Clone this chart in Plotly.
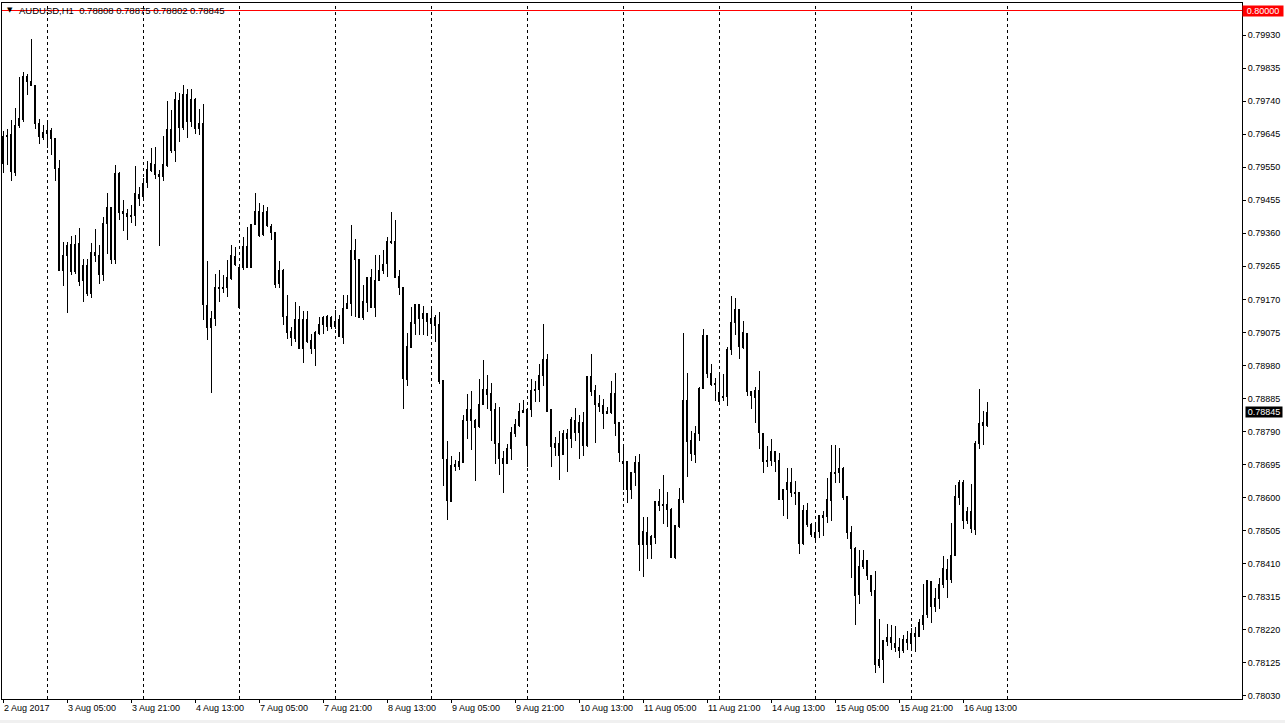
import pandas as pd
import plotly.graph_objects as go

symbol = "AUDUSD,H1"
first_bar_time = "2017-08-02 13:00"

opens = [0.79561, 0.79637, 0.79643, 0.79535, 0.79670, 0.79687, 0.79812, 0.79797, 0.79785, 0.79676,
         0.79636, 0.79647, 0.79655, 0.79632, 0.79545, 0.79254, 0.79296, 0.79328, 0.79251, 0.79330,
         0.79224, 0.79268, 0.79187, 0.79304, 0.79296, 0.79241, 0.79388, 0.79435, 0.79285, 0.79533,
         0.79423, 0.79416, 0.79412, 0.79410, 0.79472, 0.79465, 0.79505, 0.79540, 0.79558, 0.79529,
         0.79522, 0.79556, 0.79659, 0.79599, 0.79743, 0.79663, 0.79758, 0.79681, 0.79745, 0.79662,
         0.79676, 0.79151, 0.79090, 0.79114, 0.79202, 0.79204, 0.79205, 0.79231, 0.79294, 0.79148,
         0.79261, 0.79323, 0.79261, 0.79385, 0.79424, 0.79356, 0.79424, 0.79380, 0.79362, 0.79215,
         0.79254, 0.79121, 0.79078, 0.79057, 0.79112, 0.79030, 0.79112, 0.79052, 0.79028, 0.79071,
         0.79097, 0.79121, 0.79093, 0.79093, 0.79111, 0.79061, 0.79143, 0.79157, 0.79311, 0.79285,
         0.79119, 0.79162, 0.79232, 0.79148, 0.79224, 0.79254, 0.79274, 0.79337, 0.79335, 0.79236,
         0.79204, 0.78939, 0.79033, 0.79102, 0.79156, 0.79116, 0.79129, 0.79100, 0.79119, 0.79098,
         0.78937, 0.78710, 0.78589, 0.78695, 0.78690, 0.78701, 0.78821, 0.78853, 0.78823, 0.78804,
         0.78867, 0.78911, 0.78899, 0.78852, 0.78755, 0.78712, 0.78699, 0.78742, 0.78785, 0.78807,
         0.78845, 0.78749, 0.78852, 0.78907, 0.78911, 0.78951, 0.78996, 0.78853, 0.78757, 0.78757,
         0.78724, 0.78783, 0.78770, 0.78821, 0.78788, 0.78815, 0.78749, 0.78948, 0.78908, 0.78872,
         0.78865, 0.78848, 0.78845, 0.78899, 0.78815, 0.78703, 0.78703, 0.78624, 0.78671, 0.78700,
         0.78464, 0.78500, 0.78464, 0.78485, 0.78588, 0.78579, 0.78579, 0.78567, 0.78428, 0.78517,
         0.78596, 0.78879, 0.78764, 0.78724, 0.78783, 0.78913, 0.79066, 0.78957, 0.78928, 0.78877,
         0.78890, 0.78890, 0.79025, 0.79103, 0.79140, 0.79031, 0.79071, 0.78906, 0.78888, 0.78908,
         0.78783, 0.78708, 0.78708, 0.78733, 0.78706, 0.78596, 0.78623, 0.78643, 0.78615, 0.78614,
         0.78467, 0.78564, 0.78524, 0.78485, 0.78503, 0.78543, 0.78545, 0.78593, 0.78671, 0.78671,
         0.78685, 0.78603, 0.78499, 0.78455, 0.78321, 0.78402, 0.78418, 0.78375, 0.78332, 0.78118,
         0.78135, 0.78185, 0.78197, 0.78181, 0.78170, 0.78161, 0.78193, 0.78181, 0.78210, 0.78202,
         0.78236, 0.78263, 0.78359, 0.78287, 0.78310, 0.78349, 0.78394, 0.78365, 0.78434, 0.78600,
         0.78643, 0.78535, 0.78559, 0.78509, 0.78757, 0.78817, 0.78808]

highs = [0.79655, 0.79660, 0.79685, 0.79719, 0.79810, 0.79823, 0.79818, 0.79919, 0.79787, 0.79690,
         0.79671, 0.79678, 0.79662, 0.79634, 0.79572, 0.79335, 0.79335, 0.79352, 0.79354, 0.79376,
         0.79285, 0.79286, 0.79332, 0.79371, 0.79325, 0.79407, 0.79475, 0.79437, 0.79556, 0.79536,
         0.79455, 0.79431, 0.79440, 0.79554, 0.79492, 0.79518, 0.79567, 0.79606, 0.79609, 0.79542,
         0.79639, 0.79740, 0.79714, 0.79767, 0.79762, 0.79786, 0.79775, 0.79774, 0.79748, 0.79716,
         0.79731, 0.79279, 0.79138, 0.79243, 0.79255, 0.79239, 0.79282, 0.79325, 0.79321, 0.79268,
         0.79349, 0.79378, 0.79388, 0.79475, 0.79447, 0.79441, 0.79436, 0.79388, 0.79364, 0.79280,
         0.79256, 0.79182, 0.79090, 0.79162, 0.79150, 0.79138, 0.79138, 0.79071, 0.79080, 0.79119,
         0.79121, 0.79124, 0.79121, 0.79140, 0.79124, 0.79182, 0.79182, 0.79385, 0.79345, 0.79287,
         0.79210, 0.79235, 0.79258, 0.79297, 0.79297, 0.79311, 0.79349, 0.79420, 0.79397, 0.79254,
         0.79206, 0.79073, 0.79148, 0.79158, 0.79158, 0.79150, 0.79131, 0.79143, 0.79124, 0.79133,
         0.78939, 0.78764, 0.78721, 0.78708, 0.78732, 0.78839, 0.78897, 0.78908, 0.78825, 0.78942,
         0.78996, 0.78953, 0.78929, 0.78871, 0.78862, 0.78733, 0.78755, 0.78802, 0.78826, 0.78873,
         0.78881, 0.78855, 0.78940, 0.78935, 0.78984, 0.79098, 0.79014, 0.78855, 0.78773, 0.78793,
         0.78795, 0.78796, 0.78831, 0.78858, 0.78838, 0.78845, 0.78951, 0.79012, 0.78924, 0.78896,
         0.78884, 0.78860, 0.78934, 0.78959, 0.78818, 0.78747, 0.78705, 0.78673, 0.78719, 0.78726,
         0.78543, 0.78543, 0.78492, 0.78591, 0.78625, 0.78666, 0.78615, 0.78569, 0.78521, 0.78627,
         0.79074, 0.78959, 0.78793, 0.78805, 0.78917, 0.79085, 0.79068, 0.78983, 0.78944, 0.78959,
         0.78956, 0.79032, 0.79179, 0.79175, 0.79143, 0.79109, 0.79073, 0.78906, 0.78919, 0.78965,
         0.78785, 0.78749, 0.78769, 0.78735, 0.78729, 0.78626, 0.78685, 0.78685, 0.78649, 0.78617,
         0.78579, 0.78584, 0.78526, 0.78524, 0.78550, 0.78562, 0.78656, 0.78752, 0.78751, 0.78742,
         0.78687, 0.78605, 0.78519, 0.78457, 0.78450, 0.78450, 0.78421, 0.78377, 0.78390, 0.78252,
         0.78190, 0.78236, 0.78234, 0.78231, 0.78196, 0.78205, 0.78218, 0.78226, 0.78229, 0.78252,
         0.78351, 0.78363, 0.78361, 0.78341, 0.78368, 0.78432, 0.78423, 0.78526, 0.78637, 0.78651,
         0.78650, 0.78574, 0.78639, 0.78764, 0.78911, 0.78850, 0.78875]

lows = [0.79534, 0.79556, 0.79511, 0.79524, 0.79663, 0.79681, 0.79758, 0.79783, 0.79660, 0.79618,
        0.79628, 0.79604, 0.79585, 0.79509, 0.79251, 0.79208, 0.79130, 0.79239, 0.79244, 0.79209,
        0.79162, 0.79181, 0.79174, 0.79277, 0.79215, 0.79224, 0.79300, 0.79271, 0.79271, 0.79397,
        0.79366, 0.79340, 0.79389, 0.79381, 0.79439, 0.79455, 0.79489, 0.79537, 0.79515, 0.79323,
        0.79511, 0.79551, 0.79591, 0.79565, 0.79623, 0.79657, 0.79634, 0.79666, 0.79645, 0.79642,
        0.79111, 0.79054, 0.78901, 0.79093, 0.79162, 0.79187, 0.79177, 0.79225, 0.79265, 0.79147,
        0.79254, 0.79259, 0.79260, 0.79383, 0.79349, 0.79351, 0.79378, 0.79340, 0.79203, 0.79203,
        0.79095, 0.79057, 0.79037, 0.79047, 0.79028, 0.78987, 0.79045, 0.79014, 0.78978, 0.79069,
        0.79071, 0.79079, 0.79086, 0.79084, 0.79061, 0.79043, 0.79141, 0.79121, 0.79119, 0.79117,
        0.79112, 0.79133, 0.79146, 0.79119, 0.79222, 0.79244, 0.79234, 0.79330, 0.79232, 0.79182,
        0.78855, 0.78922, 0.79031, 0.79069, 0.79069, 0.79068, 0.79064, 0.79071, 0.79047, 0.78927,
        0.78634, 0.78536, 0.78587, 0.78677, 0.78679, 0.78699, 0.78770, 0.78738, 0.78649, 0.78800,
        0.78865, 0.78855, 0.78764, 0.78697, 0.78666, 0.78613, 0.78697, 0.78708, 0.78773, 0.78804,
        0.78843, 0.78687, 0.78831, 0.78874, 0.78874, 0.78922, 0.78845, 0.78687, 0.78719, 0.78652,
        0.78722, 0.78674, 0.78742, 0.78762, 0.78712, 0.78719, 0.78747, 0.78893, 0.78756, 0.78847,
        0.78796, 0.78840, 0.78840, 0.78776, 0.78703, 0.78623, 0.78586, 0.78595, 0.78634, 0.78390,
        0.78373, 0.78423, 0.78423, 0.78467, 0.78562, 0.78524, 0.78516, 0.78426, 0.78423, 0.78514,
        0.78586, 0.78660, 0.78705, 0.78700, 0.78764, 0.78911, 0.78944, 0.78922, 0.78879, 0.78875,
        0.78877, 0.78863, 0.79011, 0.79068, 0.78999, 0.79026, 0.78893, 0.78855, 0.78815, 0.78740,
        0.78670, 0.78687, 0.78690, 0.78674, 0.78594, 0.78546, 0.78540, 0.78601, 0.78579, 0.78438,
        0.78464, 0.78517, 0.78488, 0.78479, 0.78485, 0.78490, 0.78526, 0.78533, 0.78643, 0.78643,
        0.78594, 0.78481, 0.78369, 0.78233, 0.78295, 0.78394, 0.78363, 0.78316, 0.78097, 0.78109,
        0.78067, 0.78173, 0.78161, 0.78157, 0.78140, 0.78153, 0.78161, 0.78168, 0.78157, 0.78200,
        0.78220, 0.78253, 0.78240, 0.78272, 0.78279, 0.78339, 0.78312, 0.78355, 0.78432, 0.78579,
        0.78509, 0.78524, 0.78498, 0.78492, 0.78740, 0.78752, 0.78802]

closes = [0.79637, 0.79640, 0.79538, 0.79670, 0.79690, 0.79812, 0.79797, 0.79785, 0.79676, 0.79637,
          0.79651, 0.79655, 0.79632, 0.79545, 0.79254, 0.79296, 0.79325, 0.79251, 0.79328, 0.79221,
          0.79268, 0.79187, 0.79304, 0.79296, 0.79241, 0.79388, 0.79435, 0.79285, 0.79533, 0.79421,
          0.79416, 0.79408, 0.79408, 0.79475, 0.79459, 0.79504, 0.79542, 0.79561, 0.79529, 0.79522,
          0.79558, 0.79657, 0.79599, 0.79745, 0.79663, 0.79758, 0.79681, 0.79745, 0.79662, 0.79676,
          0.79155, 0.79090, 0.79114, 0.79205, 0.79205, 0.79202, 0.79232, 0.79296, 0.79271, 0.79261,
          0.79323, 0.79261, 0.79386, 0.79424, 0.79353, 0.79421, 0.79381, 0.79362, 0.79212, 0.79254,
          0.79121, 0.79076, 0.79060, 0.79112, 0.79030, 0.79112, 0.79050, 0.79028, 0.79074, 0.79098,
          0.79119, 0.79093, 0.79119, 0.79107, 0.79063, 0.79145, 0.79158, 0.79311, 0.79285, 0.79119,
          0.79164, 0.79232, 0.79148, 0.79225, 0.79254, 0.79271, 0.79337, 0.79333, 0.79234, 0.79204,
          0.78942, 0.79035, 0.79103, 0.79156, 0.79116, 0.79129, 0.79105, 0.79114, 0.79095, 0.78935,
          0.78712, 0.78591, 0.78692, 0.78690, 0.78703, 0.78821, 0.78853, 0.78823, 0.78802, 0.78869,
          0.78911, 0.78897, 0.78850, 0.78755, 0.78712, 0.78699, 0.78742, 0.78786, 0.78809, 0.78847,
          0.78850, 0.78852, 0.78908, 0.78911, 0.78950, 0.78996, 0.78849, 0.78747, 0.78745, 0.78721,
          0.78783, 0.78769, 0.78824, 0.78788, 0.78815, 0.78749, 0.78948, 0.78906, 0.78869, 0.78862,
          0.78842, 0.78842, 0.78899, 0.78814, 0.78730, 0.78697, 0.78624, 0.78671, 0.78700, 0.78464,
          0.78502, 0.78464, 0.78487, 0.78588, 0.78577, 0.78577, 0.78565, 0.78428, 0.78519, 0.78596,
          0.78879, 0.78762, 0.78726, 0.78783, 0.78913, 0.79066, 0.78957, 0.78926, 0.78925, 0.78901,
          0.78888, 0.79025, 0.79103, 0.79140, 0.79035, 0.79074, 0.78904, 0.78893, 0.78908, 0.78786,
          0.78703, 0.78703, 0.78732, 0.78703, 0.78596, 0.78624, 0.78643, 0.78614, 0.78612, 0.78468,
          0.78564, 0.78522, 0.78495, 0.78500, 0.78548, 0.78548, 0.78594, 0.78671, 0.78669, 0.78685,
          0.78601, 0.78499, 0.78455, 0.78319, 0.78402, 0.78418, 0.78377, 0.78330, 0.78121, 0.78135,
          0.78188, 0.78199, 0.78183, 0.78168, 0.78161, 0.78193, 0.78183, 0.78210, 0.78202, 0.78241,
          0.78262, 0.78361, 0.78287, 0.78311, 0.78351, 0.78397, 0.78365, 0.78434, 0.78603, 0.78643,
          0.78535, 0.78559, 0.78512, 0.78757, 0.78812, 0.78807, 0.78845]

price_ticks = [0.79930, 0.79835, 0.79740, 0.79645, 0.79550, 0.79455, 0.79360, 0.79265, 0.79170,
               0.79075, 0.78980, 0.78885, 0.78790, 0.78695, 0.78600, 0.78505, 0.78410, 0.78315,
               0.78220, 0.78125, 0.78030]
level_price = 0.80000
price_range = [0.780211, 0.800221]
label_every = 16

GREEN = "#22D322"
RED = "#D82020"
FONT = "Liberation Sans, Arial, sans-serif"

n = len(closes)
idx = list(range(n))

# hourly bar times, weekends skipped
hours = pd.date_range(first_bar_time, periods=24 * 30, freq="h")
hours = hours[hours.dayofweek < 5]

tick_idx = list(range(0, n, label_every))
tick_text = []
for k, i in enumerate(tick_idx):
    t = hours[i]
    if k == 0:
        tick_text.append(f"{t.day} {t:%b} {t.year}")
    else:
        tick_text.append(f"{t.day} {t:%b} {t:%H:%M}")

day_starts = [i for i in range(n) if hours[i].hour == 0]
next_day = next(i for i in range(n, len(hours)) if hours[i].hour == 0)
day_starts.append(next_day)

fig = go.Figure()
fig.add_trace(go.Candlestick(
    x=idx, open=opens, high=highs, low=lows, close=closes,
    increasing=dict(line=dict(color="black", width=1), fillcolor=GREEN),
    decreasing=dict(line=dict(color="black", width=1), fillcolor=RED),
    whiskerwidth=0, hoverinfo="skip", showlegend=False,
))

shapes = []
for d in day_starts:
    shapes.append(dict(type="line", xref="x", yref="paper", x0=d, x1=d, y0=0, y1=1,
                       line=dict(color="black", width=1, dash="3px,3px"), layer="below"))
shapes.append(dict(type="line", xref="paper", yref="y", x0=0, x1=1, y0=level_price, y1=level_price,
                   line=dict(color="#FF0000", width=1), layer="above"))
shapes.append(dict(type="rect", xref="paper", yref="paper", x0=-0.01, x1=1.05, y0=-0.0305, y1=-0.05,
                   fillcolor="#F0F0F0", line=dict(width=0), layer="below"))

o, h, l, c = opens[-1], highs[-1], lows[-1], closes[-1]
annotations = [
    dict(xref="paper", yref="paper", x=0, y=1, xanchor="left", yanchor="middle", xshift=3, yshift=-7,
         text="▼", showarrow=False, font=dict(size=7, color="black", family="DejaVu Sans")),
    dict(xref="paper", yref="paper", x=0, y=1, xanchor="left", yanchor="middle", xshift=15, yshift=-7,
         text=f"{symbol}  {o:.5f} {h:.5f} {l:.5f} {c:.5f}", showarrow=False,
         font=dict(size=9.5, color="#000000", family=FONT)),
    dict(xref="paper", yref="y", x=1, y=level_price, xanchor="left", yanchor="middle", xshift=0,
         text=f"{level_price:.5f}", showarrow=False, bgcolor="#FF0000", borderpad=0,
         width=40, height=10, font=dict(size=9, color="white", family=FONT)),
    dict(xref="paper", yref="y", x=1, y=c, xanchor="left", yanchor="middle", xshift=3,
         text=f"{c:.5f}", showarrow=False, bgcolor="#000000", borderpad=0,
         width=36, height=10, font=dict(size=9, color="white", family=FONT)),
]

fig.update_layout(
    width=1285, height=723,
    margin=dict(l=2, r=43, t=3, b=24),
    paper_bgcolor="white", plot_bgcolor="white",
    boxgap=0.4,
    font=dict(family=FONT, size=9, color="black"),
    showlegend=False,
    shapes=shapes,
    annotations=annotations,
    xaxis=dict(
        range=[-0.25, 309.75], rangeslider=dict(visible=False),
        showgrid=False, zeroline=False, showline=True, mirror=True,
        linecolor="black", linewidth=1,
        tickmode="array", tickvals=tick_idx, ticktext=tick_text,
        ticks="outside", ticklen=3, tickcolor="black", tickwidth=1,
        ticklabelposition="outside right",
        tickfont=dict(size=9, color="black", family=FONT),
        fixedrange=True,
    ),
    yaxis=dict(
        side="right", range=price_range,
        showgrid=False, zeroline=False, showline=True, mirror=True,
        linecolor="black", linewidth=1,
        tickmode="array", tickvals=price_ticks, ticktext=[f"{v:.5f}" for v in price_ticks],
        ticks="outside", ticklen=3, tickcolor="black", tickwidth=1,
        tickfont=dict(size=9, color="black", family=FONT),
        fixedrange=True,
    ),
)

post = (
    "document.body.style.margin='0';document.body.style.overflow='hidden';"
    "document.querySelectorAll('.trace path, .shapelayer path').forEach(function(p){"
    "p.style.shapeRendering='crispEdges';});"
)
fig.write_html("out.html", config={"displayModeBar": False}, post_script=post)
